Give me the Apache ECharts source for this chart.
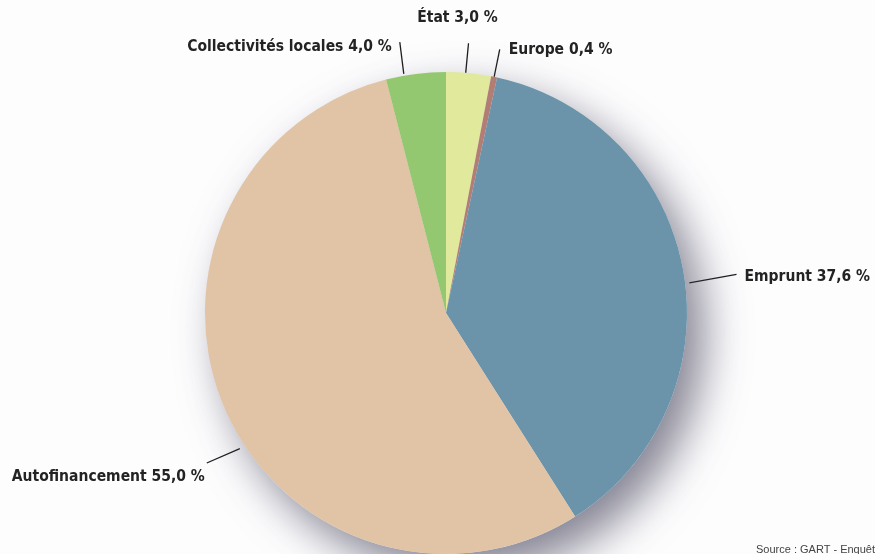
<!DOCTYPE html>
<html>
<head>
<meta charset="utf-8">
<script src="https://cdn.jsdelivr.net/npm/echarts@6/dist/echarts.min.js"></script>
<style>
  html, body { margin: 0; padding: 0; background: #fdfdfe; }
  #chart { width: 875px; height: 554px; }
</style>
</head>
<body>
<div id="chart"></div>
<script>
// Sources de financement (en %), dans l'ordre horaire depuis midi
const categories = ['État', 'Europe', 'Emprunt', 'Autofinancement', 'Collectivités locales'];
const shares = [3.0, 0.4, 37.6, 55.0, 4.0];
const colors = ['#e1e99d', '#b27d75', '#6b94ab', '#e1c3a6', '#94c870'];

// Mise en page des étiquettes : longueur du trait de rappel,
// décalage du trait et décalage du texte (en px)
const leaderLengths = [30, 28, 48, 36, 32];
const lineShift = [[-3, 0], [0, 0], [6, 12], [15, 40], [-12, 0]];
const textShift = [[-20, -25], [3, 1], [8, 15], [19, 54], [-14, 5]];
const textAlign = ['center', null, null, null, null];

const LABEL_FONT = '"Liberation Sans Narrow", "DejaVu Sans Condensed", "Roboto", sans-serif';

const fmt = v => v.toFixed(1).replace('.', ',') + ' %';

const data = categories.map((name, i) => ({
  name: name,
  value: shares[i],
  itemStyle: { color: colors[i] },
  labelLine: { length: leaderLengths[i], length2: 0 }
}));

const chart = echarts.init(document.getElementById('chart'), null, { renderer: 'canvas' });

chart.setOption({
  backgroundColor: '#fdfdfe',
  animation: false,
  title: {
    text: 'Source : GART - Enquête',
    left: 751,
    top: 539,
    textStyle: { fontFamily: '"Liberation Sans", Arial, sans-serif', fontSize: 11, fontWeight: 'normal', color: '#444' }
  },
  series: [
    {
      // disque d'ombre portée sous le camembert
      type: 'pie',
      center: [446, 313],
      radius: [0, 241],
      silent: true,
      label: { show: false },
      labelLine: { show: false },
      itemStyle: {
        color: '#e8e8ec',
        shadowBlur: 44,
        shadowOffsetX: 17,
        shadowOffsetY: 20,
        shadowColor: 'rgba(60, 58, 82, 0.62)'
      },
      data: [{ value: 1, name: '' }]
    },
    {
      type: 'pie',
      center: [446, 313],
      radius: [0, 241],
      startAngle: 90,
      clockwise: true,
      avoidLabelOverlap: false,
      itemStyle: { borderWidth: 0 },
      label: {
        show: true,
        position: 'outside',
        formatter: p => p.name + ' ' + fmt(p.value),
        fontFamily: LABEL_FONT,
        fontWeight: 'bold',
        fontSize: 15.5,
        color: '#232323',
        distanceToLabelLine: 6
      },
      labelLine: {
        show: true,
        smooth: false,
        lineStyle: { color: '#1e1e1e', width: 1.3 }
      },
      labelLayout: p => {
        const i = p.dataIndex;
        const out = { hideOverlap: false, dx: textShift[i][0], dy: textShift[i][1] };
        if (textAlign[i]) out.align = textAlign[i];
        if (p.labelLinePoints) {
          out.labelLinePoints = p.labelLinePoints.map(pt => [pt[0] + lineShift[i][0], pt[1] + lineShift[i][1]]);
        }
        return out;
      },
      emphasis: { disabled: true },
      data: data
    }
  ]
});
</script>
</body>
</html>
